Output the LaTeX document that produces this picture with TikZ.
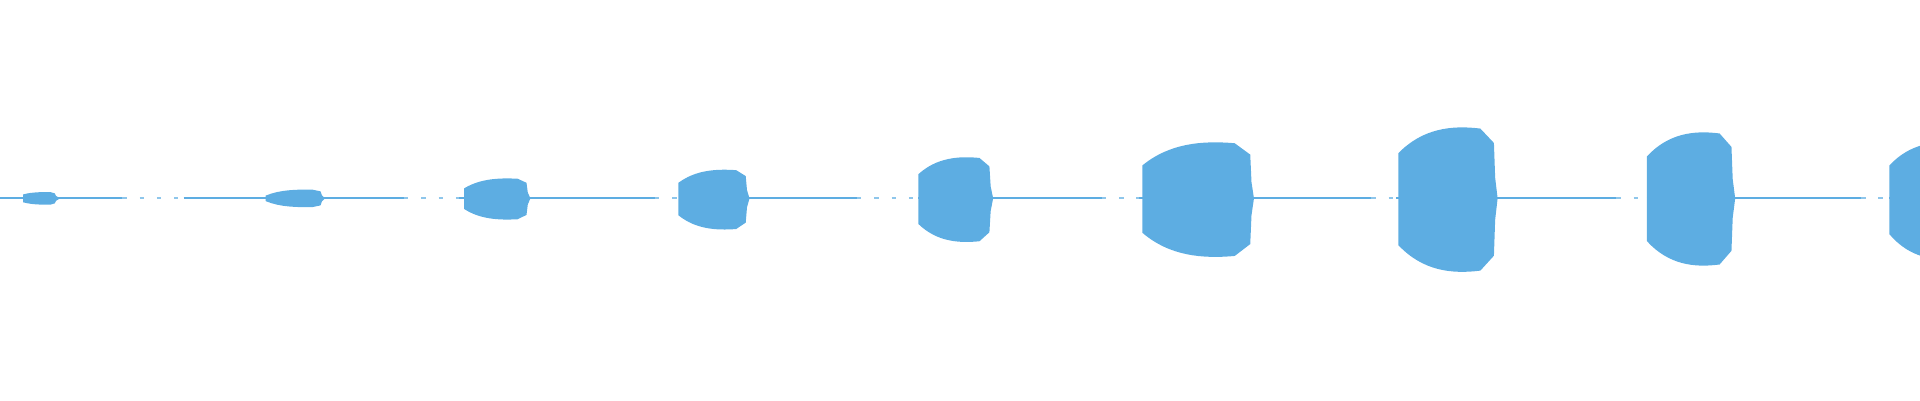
\documentclass[tikz,border=0pt]{standalone}
\definecolor{wavecol}{RGB}{93,173,226}
\tikzset{wave/.style={fill=wavecol,draw=wavecol,line width=0.6pt},
base/.style={wavecol,line width=0.5pt},
faint/.style={wavecol!70,line width=0.5pt,dash pattern=on 1pt off 3pt}}
% #1 start, #2 end, #3 height up, #4 height down, #5 fraction at the start
\newcommand\blob[5]{%
 \pgfmathsetmacro\bw{#2-#1}
 \fill[wave] (#1,{162-#5*#3}) .. controls ({#1+0.25*\bw},{162-1.0*#3}) and ({#1+0.55*\bw},{162-1.05*#3}) .. ({#1+0.85*\bw},{162-#3})
  -- ({#2-1},{162-0.8*#3}) -- (#2,{162-0.3*#3}) -- ({#2+2},162) -- (#2,{162+0.3*#4}) -- ({#2-1},{162+0.8*#4}) -- ({#1+0.85*\bw},{162+#4})
  .. controls ({#1+0.55*\bw},{162+1.05*#4}) and ({#1+0.25*\bw},{162+1.0*#4}) .. (#1,{162+#5*#4}) -- cycle;}
\begin{document}
\begin{tikzpicture}[x=0.01cm,y=-0.01cm]
\useasboundingbox (0,0) rectangle (1568,327);
\clip (0,0) rectangle (1568,327);
% base line
\foreach \a/\b in {0/100,150/330,375/535,555/700,750/900,930/1120,1140/1320,1345/1520,1543/1568}
  \draw[base] (\a,162) -- (\b,162);
\foreach \a/\b in {100/150,330/375,535/555,700/750,900/930,1120/1140,1320/1345,1520/1543}
  \draw[faint] (\a,162) -- (\b,162);
% bursts
\blob{20}{45}{4}{4}{0.6}
\blob{218}{262}{6}{6}{0.25}
\blob{380}{430}{15}{16}{0.5}
\blob{555}{609}{22}{24}{0.55}
\blob{751}{808}{32}{34}{0.6}
\blob{934}{1021}{44}{46}{0.6}
\blob{1143}{1220}{56}{58}{0.65}
\blob{1346}{1414}{52}{53}{0.65}
\blob{1544}{1610}{44}{48}{0.6}
\end{tikzpicture}
\end{document}
